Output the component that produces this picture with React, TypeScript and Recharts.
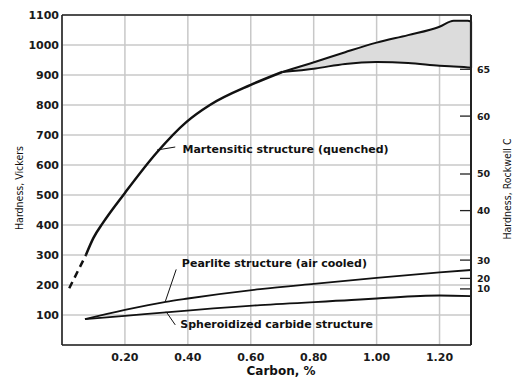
import React from 'react'
import {
  ComposedChart,
  Line,
  Area,
  XAxis,
  YAxis,
  CartesianGrid,
  ReferenceLine,
  ReferenceDot,
} from 'recharts'

// carbon % on x, Vickers hardness on y
const dashCarbon = [0.023, 0.076]
const dashHv = [189, 300]

const martCarbon = [0.076, 0.1, 0.13, 0.2, 0.3, 0.395, 0.47, 0.6, 0.7]
const martHv = [300, 357, 407, 507, 640, 743, 800, 867, 910]

const bandCarbon = [0.7, 0.806, 0.9, 1.0, 1.1, 1.2, 1.245, 1.29, 1.3]
const upperHv = [910, 944, 976, 1008, 1033, 1061, 1081, 1081, 1078]
const lowerHv = [910, 922, 937, 943, 940, 931, 928, 925, 924]

const pearCarbon = [0.073, 0.2, 0.33, 0.4, 0.63, 0.8, 1.0, 1.2, 1.3]
const pearHv = [86, 117, 144, 155, 186, 204, 224, 242, 250]

const sphCarbon = [0.073, 0.2, 0.33, 0.63, 0.92, 1.0, 1.2, 1.3]
const sphHv = [86, 97, 109, 133, 150, 155, 165, 163]

const carbonTicks = [0.2, 0.4, 0.6, 0.8, 1.0, 1.2]
const vickersTicks = [100, 200, 300, 400, 500, 600, 700, 800, 900, 1000, 1100]
const rockwellLabels = ['10', '20', '30', '40', '50', '60', '65']
const rockwellHv = [187, 222, 283, 448, 570, 763, 919]

const pts = (xs: number[], ys: number[]) => xs.map((c, i) => ({ c, v: ys[i] }))
const dashData = pts(dashCarbon, dashHv)
const martData = pts(martCarbon, martHv)
const upperData = pts(bandCarbon, upperHv)
const lowerData = pts(bandCarbon, lowerHv)
const bandData = bandCarbon.map((c, i) => ({ c, range: [lowerHv[i], upperHv[i]] }))
const pearData = pts(pearCarbon, pearHv)
const sphData = pts(sphCarbon, sphHv)

const BOLD = 'DejaVu Sans, Verdana, sans-serif'
const NARROW = "'Liberation Sans Narrow', 'DejaVu Sans Condensed', 'Arial Narrow', sans-serif"
const tickStyle = { fontSize: 11, fontWeight: 700, fontFamily: BOLD, fill: '#1a1a1a' }
const noteLabel = (value: string) => ({
  value,
  position: 'right' as const,
  offset: 0,
  fontSize: 11,
  fontWeight: 700,
  fontFamily: BOLD,
  fill: '#111',
})

function RockwellTick(props: any) {
  const { x, y, payload } = props
  const idx = rockwellHv.indexOf(payload.value)
  return (
    <g>
      <line x1={x - 11} x2={x} y1={y} y2={y} stroke="#222" strokeWidth={1.3} />
      <text x={x + 6} y={y} dy="0.36em" {...tickStyle} fontSize={9.5}>
        {rockwellLabels[idx]}
      </text>
    </g>
  )
}

// right-hand frame of the plot, drawn as the Rockwell axis line
function RightFrame(props: any) {
  const { viewBox } = props
  const x = 471
  return (
    <g>
      <line x1={x} x2={x} y1={15} y2={345} stroke="#222" strokeWidth={1.8} />
      <text
        x={507}
        y={189}
        transform="rotate(-90 507 189)"
        textAnchor="middle"
        dominantBaseline="central"
        fontFamily={NARROW}
        fontSize={10.5}
        fill="#111"
      >
        Hardness, Rockwell C
      </text>
    </g>
  )
}

const vickersTitle = () => (
  <text
    x={19}
    y={188}
    transform="rotate(-90 19 188)"
    textAnchor="middle"
    dominantBaseline="central"
    fontFamily={NARROW}
    fontSize={10.5}
    fill="#111"
  >
    Hardness, Vickers
  </text>
)

const carbonTitle = () => (
  <text x={281} y={371} textAnchor="middle" dominantBaseline="central" fontFamily={BOLD} fontSize={12} fontWeight={700} fill="#111">
    Carbon, %
  </text>
)

export default function App() {
  return (
    <div style={{ position: 'absolute', left: 0, top: 0, background: '#fff' }}>
      <ComposedChart width={519} height={377} margin={{ top: 15, right: 0, bottom: 0, left: 0 }}>
        <CartesianGrid yAxisId="v" stroke="#c8c8c8" strokeWidth={1.5} />
        <XAxis
          dataKey="c"
          type="number"
          domain={[0, 1.3]}
          ticks={carbonTicks}
          tickFormatter={(v: number) => v.toFixed(2)}
          tick={tickStyle}
          tickLine={false}
          tickSize={0}
          tickMargin={8}
          axisLine={{ stroke: '#222', strokeWidth: 1.6 }}
          height={32}
          allowDataOverflow
          label={{ value: 'Carbon, %', content: carbonTitle }}
        />
        <YAxis
          yAxisId="v"
          domain={[0, 1100]}
          ticks={vickersTicks}
          tick={tickStyle}
          tickLine={false}
          tickSize={0}
          tickMargin={3}
          axisLine={{ stroke: '#222', strokeWidth: 1.6 }}
          width={62}
          allowDataOverflow
          label={{ value: 'Hardness, Vickers', content: vickersTitle }}
        />
        <YAxis
          yAxisId="hrc"
          orientation="right"
          domain={[0, 1100]}
          ticks={rockwellHv}
          interval={0}
          tick={<RockwellTick />}
          tickLine={false}
          tickSize={0}
          tickMargin={0}
          axisLine={{ stroke: '#222', strokeWidth: 1.8 }}
          width={48}
          allowDataOverflow
          label={{ value: 'Hardness, Rockwell C', content: RightFrame }}
        />

        <Area
          yAxisId="v"
          data={bandData}
          dataKey="range"
          type="monotone"
          fill="#dcdcdc"
          fillOpacity={1}
          stroke="none"
          isAnimationActive={false}
        />
        <ReferenceLine yAxisId="v" y={1100} stroke="#222" strokeWidth={1.6} />
        <Line yAxisId="v" data={dashData} dataKey="v" type="linear" stroke="#111" strokeWidth={2.5} strokeDasharray="7 5" dot={false} isAnimationActive={false} />
        <Line yAxisId="v" data={martData} dataKey="v" type="monotone" stroke="#111" strokeWidth={2.5} dot={false} isAnimationActive={false} />
        <Line yAxisId="v" data={upperData} dataKey="v" type="monotone" stroke="#111" strokeWidth={2} dot={false} isAnimationActive={false} />
        <Line yAxisId="v" data={lowerData} dataKey="v" type="monotone" stroke="#111" strokeWidth={2} dot={false} isAnimationActive={false} />
        <ReferenceLine
          yAxisId="v"
          segment={[
            { x: 1.3, y: lowerHv[lowerHv.length - 1] },
            { x: 1.3, y: upperHv[upperHv.length - 1] },
          ]}
          stroke="#111"
          strokeWidth={2.2}
        />
        <Line yAxisId="v" data={pearData} dataKey="v" type="monotone" stroke="#111" strokeWidth={1.8} dot={false} isAnimationActive={false} />
        <Line yAxisId="v" data={sphData} dataKey="v" type="monotone" stroke="#111" strokeWidth={1.8} dot={false} isAnimationActive={false} />

        <ReferenceLine yAxisId="v" segment={[{ x: 0.302, y: 650 }, { x: 0.36, y: 660 }]} stroke="#111" strokeWidth={1} />
        <ReferenceLine yAxisId="v" segment={[{ x: 0.328, y: 144 }, { x: 0.363, y: 252 }]} stroke="#111" strokeWidth={1} />
        <ReferenceLine yAxisId="v" segment={[{ x: 0.331, y: 111 }, { x: 0.36, y: 67 }]} stroke="#111" strokeWidth={1} />
        <ReferenceDot yAxisId="v" x={0.383} y={652} r={0} fill="none" stroke="none" label={noteLabel('Martensitic structure (quenched)')} />
        <ReferenceDot yAxisId="v" x={0.381} y={272} r={0} fill="none" stroke="none" label={noteLabel('Pearlite structure (air cooled)')} />
        <ReferenceDot yAxisId="v" x={0.376} y={70} r={0} fill="none" stroke="none" label={noteLabel('Spheroidized carbide structure')} />
      </ComposedChart>
    </div>
  )
}
